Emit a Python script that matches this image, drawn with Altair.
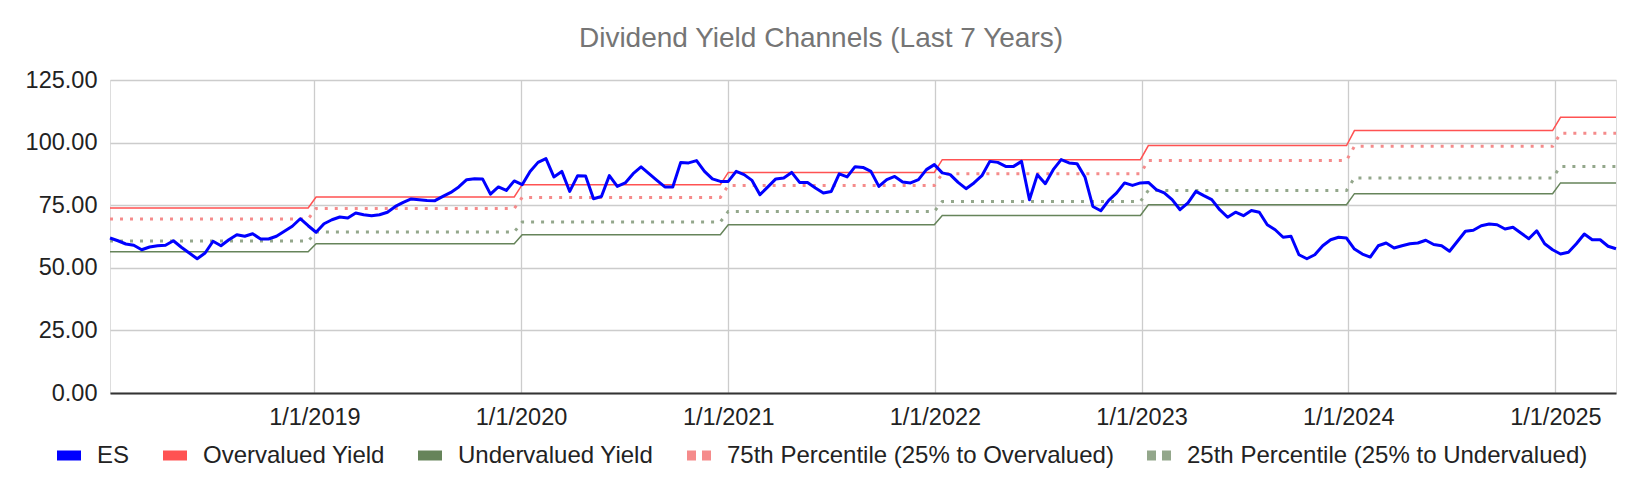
import altair as alt
import pandas as pd

# ---- data ----
start_date = "2018-01-05"
step_days = 14

es_values = [
    61.9, 60.8, 59.5, 59.0, 57.2, 58.3, 58.8, 59.0, 60.8, 58.2,
    55.9, 53.6, 55.9, 60.6, 58.8, 61.2, 63.2, 62.6, 63.6, 61.5,
    61.5, 62.6, 64.6, 66.6, 69.6, 66.8, 64.2, 67.6, 69.2, 70.3,
    69.9, 71.9, 71.2, 70.8, 71.2, 72.2, 74.5, 76.1, 77.5, 77.2,
    76.9, 76.8, 78.5, 80.1, 82.3, 85.2, 85.6, 85.5, 79.4, 82.3,
    80.9, 84.7, 83.2, 88.5, 92.1, 93.6, 86.3, 88.5, 80.5, 86.8,
    86.7, 77.6, 78.5, 86.8, 82.5, 83.9, 87.6, 90.3, 87.6, 84.9,
    82.3, 82.3, 92.1, 91.9, 92.8, 88.5, 85.5, 84.5, 84.5, 88.5,
    87.2, 84.9, 79.2, 82.3, 85.5, 85.9, 88.1, 84.1, 84.1, 81.9,
    79.9, 80.5, 87.5, 86.3, 90.4, 90.1, 88.5, 82.5, 85.2, 86.5,
    84.3, 83.9, 85.2, 89.2, 91.2, 87.9, 87.2, 84.1, 81.6, 83.9,
    86.8, 92.5, 92.1, 90.5, 90.5, 92.5, 77.2, 87.2, 83.6, 89.2,
    93.2, 91.9, 91.6, 86.3, 74.5, 72.8, 76.9, 79.9, 83.9, 82.9,
    83.9, 84.1, 81.2, 79.9, 77.2, 73.2, 75.9, 80.5, 78.8, 77.2,
    73.2, 70.2, 72.2, 70.8, 72.9, 72.2, 67.2, 65.2, 62.2, 62.6,
    55.2, 53.6, 55.2, 58.8, 61.2, 62.2, 61.9, 57.5, 55.5, 54.3,
    58.8, 59.9, 57.9, 58.8, 59.6, 59.9, 61.0, 59.3, 58.8, 56.6,
    60.6, 64.6, 65.0, 66.8, 67.5, 67.2, 65.5, 66.2, 63.9, 61.6,
    64.8, 59.6, 57.2, 55.5, 56.2, 59.6, 63.5, 61.2, 61.2, 58.6,
    57.6,
]

years = [2018, 2019, 2020, 2021, 2022, 2023, 2024, 2025]
overvalued = [73.9, 78.3, 83.2, 88.1, 93.2, 98.8, 104.8, 110.1]
pct75 = [69.5, 73.7, 78.1, 82.9, 87.6, 92.9, 98.5, 103.7]
pct25 = [60.7, 64.3, 68.3, 72.5, 76.5, 80.9, 85.9, 90.5]
undervalued = [56.4, 59.6, 63.2, 67.2, 70.9, 75.2, 79.6, 83.9]

series_names = [
    "ES",
    "Overvalued Yield",
    "Undervalued Yield",
    "75th Percentile (25% to Overvalued)",
    "25th Percentile (25% to Undervalued)",
]
series_colors = ["#0000ff", "#ff5252", "#66845a", "#f58b8b", "#93a78b"]
legend_dashes = [[30, 0], [30, 0], [30, 0], [9, 6], [9, 6]]

x_tick_years = [2019, 2020, 2021, 2022, 2023, 2024, 2025]
y_ticks = [0, 25, 50, 75, 100, 125]

# ---- build long table ----
dates = pd.date_range(start_date, periods=len(es_values), freq=f"{step_days}D")
by_year = {
    series_names[1]: dict(zip(years, overvalued)),
    series_names[2]: dict(zip(years, undervalued)),
    series_names[3]: dict(zip(years, pct75)),
    series_names[4]: dict(zip(years, pct25)),
}
rows = []
for d, v in zip(dates, es_values):
    rows.append({"date": d, "series": series_names[0], "value": v})
    for name, table in by_year.items():
        rows.append({"date": d, "series": name, "value": table[d.year]})
df = pd.DataFrame(rows)

FONT = "Liberation Sans"

legend = alt.Legend(
    title=None,
    orient="none",
    legendX=-58,
    legendY=358.5,
    direction="horizontal",
    columns=5,
    padding=0,
    symbolType="stroke",
    symbolSize=576,
    symbolStrokeWidth=10,
    labelFont=FONT,
    labelFontSize=24,
    labelColor="#222222",
    labelLimit=1000,
    labelOffset=11,
    columnPadding=13,
)

color = alt.Color(
    "series:N",
    scale=alt.Scale(domain=series_names, range=series_colors),
    legend=legend,
)
dash = alt.StrokeDash(
    "series:N",
    scale=alt.Scale(domain=series_names, range=legend_dashes),
    legend=legend,
)

x = alt.X(
    "date:T",
    scale=alt.Scale(nice=False),
    axis=alt.Axis(
        title=None,
        values=[alt.DateTime(year=y, month=1, date=1) for y in x_tick_years],
        format="%-m/%-d/%Y",
        labelFont=FONT,
        labelFontSize=23.5,
        labelColor="#222222",
        labelPadding=12,
        labelAngle=0,
        ticks=False,
        domainColor="#333333",
        domainWidth=2,
        gridColor="#cccccc",
        gridWidth=1.3,
        labelFlush=False,
        labelOverlap=False,
    ),
)
y = alt.Y(
    "value:Q",
    scale=alt.Scale(domain=[0, 125], nice=False, zero=True),
    axis=alt.Axis(
        title=None,
        values=y_ticks,
        format=".2f",
        labelFont=FONT,
        labelFontSize=23.5,
        labelColor="#222222",
        labelPadding=13,
        ticks=False,
        domain=False,
        gridColor="#cccccc",
        gridWidth=1.3,
    ),
)

base = alt.Chart(df)

solid = base.transform_filter(
    alt.FieldOneOfPredicate(field="series", oneOf=[series_names[1], series_names[2]])
).mark_line(strokeWidth=1.5).encode(x=x, y=y, color=color, detail="series:N")

dotted = base.transform_filter(
    alt.FieldOneOfPredicate(field="series", oneOf=[series_names[3], series_names[4]])
).mark_line(strokeWidth=3, strokeDash=[3, 7]).encode(x=x, y=y, color=color, detail="series:N")

es_line = base.transform_filter(
    alt.FieldEqualPredicate(field="series", equal=series_names[0])
).mark_line(strokeWidth=3, strokeJoin="round").encode(x=x, y=y, color=color)

# empty layer that only carries the dash scale for the legend swatches
legend_layer = base.transform_filter("false").mark_line(strokeWidth=10).encode(
    x=x, y=y, color=color, strokeDash=dash
)

chart = alt.layer(solid, dotted, es_line, legend_layer).properties(
    width=1506,
    height=313,
    autosize=alt.AutoSizeParams(type="none"),
    padding={"left": 102, "top": 72, "right": 16, "bottom": 90},
    title=alt.Title(
        "Dividend Yield Channels (Last 7 Years)",
        fontSize=28,
        font=FONT,
        fontWeight="normal",
        color="#757575",
        anchor="middle",
        offset=15,
        dx=-42,
    ),
).configure_view(stroke=None).configure(background="white")

chart.save("out.html", embed_options={"renderer": "svg", "actions": False})
